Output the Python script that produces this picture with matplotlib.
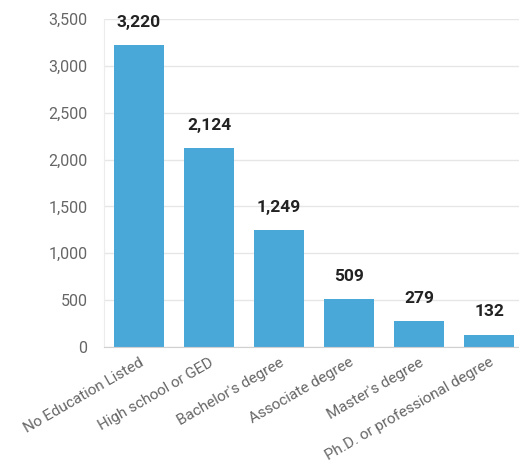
import matplotlib.pyplot as plt
import numpy as np

plt.rcParams['font.family'] = ['Roboto', 'DejaVu Sans']

categories = ["No Education Listed", "High school or GED", "Bachelor's degree",
              "Associate degree", "Master's degree", "Ph.D. or professional degree"]
counts = [3220, 2124, 1249, 509, 279, 132]
y_ticks = [0, 500, 1000, 1500, 2000, 2500, 3000, 3500]

fig = plt.figure(figsize=(5.19, 4.68), dpi=100)
ax = fig.add_axes([104 / 519, 121 / 468, 420 / 519, 328 / 468])

x = np.arange(len(categories))
bars = ax.bar(x, counts, width=50 / 70, color="#4aa8d8", zorder=2)

# value labels above each bar
for xi, v in zip(x, counts):
    ax.annotate(f"{v:,}", (xi, v), xytext=(0, 11), textcoords="offset points",
                ha="center", va="bottom", fontsize=12.5, fontweight="bold", color="#222222")

ax.set_xlim(-0.5, len(categories) - 0.5)
ax.set_ylim(0, 3500)
ax.set_yticks(y_ticks)
ax.set_yticklabels([f"{t:,}" for t in y_ticks])
ax.set_xticks(x)
ax.set_xticklabels(categories, rotation=30, ha="right", rotation_mode="anchor")

ax.grid(axis="y", color="#e6e6e6", linewidth=1, zorder=0)
for side in ["top", "right"]:
    ax.spines[side].set_visible(False)
ax.spines["left"].set_color("#ececec")
ax.spines["bottom"].set_color("#d0d0d0")
ax.tick_params(axis="both", length=0, labelsize=11.5, labelcolor="#666666")
ax.tick_params(axis="x", labelsize=11, pad=6)
ax.tick_params(axis="y", pad=12)

fig.savefig("out.png", dpi=100)
